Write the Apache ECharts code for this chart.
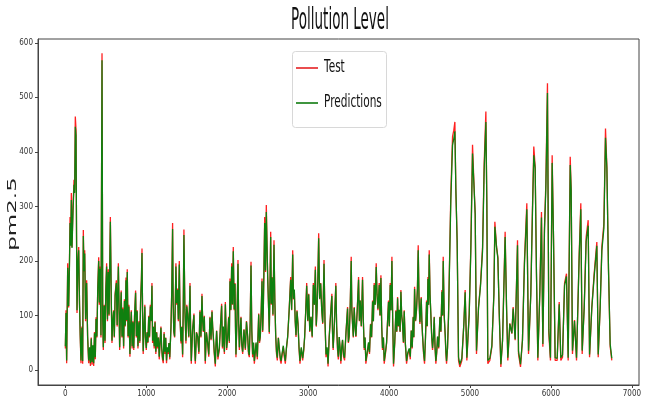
<!DOCTYPE html>
<html>
<head>
<meta charset="utf-8">
<script src="https://cdn.jsdelivr.net/npm/echarts@6/dist/echarts.min.js"></script>
<style>
  html, body { margin: 0; padding: 0; background: #fff; }
  #chart { width: 646px; height: 405px; }
</style>
</head>
<body>
<div id="chart"></div>
<script>
// sample position (row index of the test set)
const sampleIdx = [
  // 0 - 1400
  0, 8, 16, 29, 41, 50, 58, 66, 74, 82, 95, 107, 115, 123, 132, 138, 144, 155, 165, 175,
  184, 193, 205, 214, 222, 230, 239, 250, 263, 275, 288, 300, 310, 320, 330, 340, 350, 360, 370, 379,
  390, 400, 412, 420, 430, 440, 453, 462, 469, 480, 490, 500, 510, 520, 530, 540, 548, 556, 562, 568,
  576, 586, 596, 605, 615, 630, 640, 655, 663, 671, 680, 690, 700, 710, 720, 730, 740, 749, 757, 765,
  775, 785, 798, 806, 815, 825, 835, 845, 855, 868, 877, 887, 897, 910, 920, 930, 940, 947, 955, 962,
  972, 982, 990, 1000, 1010, 1020, 1030, 1040, 1050, 1060, 1070, 1078, 1088, 1098, 1108, 1118, 1128, 1138, 1150, 1160,
  1170, 1181, 1190, 1200, 1210, 1220, 1230, 1240, 1250, 1260, 1270, 1280, 1290, 1305, 1315, 1325, 1332, 1340, 1350, 1358,
  1366, 1375, 1386, 1396,
  // 1400 - 3250
  1408, 1418, 1429, 1439, 1449, 1457, 1465, 1477, 1490, 1500,
  1511, 1525, 1540, 1548, 1556, 1572, 1589, 1597, 1606, 1620,
  1635, 1650, 1663, 1675, 1688, 1697, 1705, 1717, 1729, 1743,
  1758, 1772, 1787, 1800, 1812, 1820, 1828, 1840, 1853, 1861,
  1869, 1885, 1902, 1916, 1931, 1941, 1952, 1965, 1977, 1985,
  1993, 2005, 2018, 2026, 2034, 2045, 2055, 2065, 2075, 2086,
  2096, 2102, 2108, 2120, 2133, 2141, 2150, 2160, 2170, 2180,
  2191, 2207, 2224, 2238, 2253, 2263, 2273, 2284, 2294, 2304,
  2314, 2325, 2335, 2346, 2356, 2372, 2389, 2399, 2409, 2420,
  2430, 2438, 2446, 2455, 2463, 2473, 2483, 2492, 2500, 2510,
  2520, 2528, 2537, 2545, 2553, 2565, 2578, 2588, 2599, 2609,
  2619, 2632, 2644, 2655, 2665, 2680, 2693, 2705, 2718, 2732,
  2747, 2765, 2784, 2796, 2809, 2819, 2829, 2840, 2850, 2862,
  2875, 2887, 2899, 2915, 2932, 2945, 2957, 2970, 2982, 2995,
  3007, 3020, 3035, 3050, 3064, 3077, 3089, 3100, 3110, 3120,
  3130, 3142, 3155, 3168, 3180, 3188, 3196, 3208, 3221, 3234,
  3246,
  // 3250 - 4750
  3260, 3276, 3293, 3301, 3309, 3325, 3342, 3352, 3363, 3373,
  3384, 3394, 3404, 3415, 3425, 3437, 3450, 3468, 3487, 3497,
  3507, 3520, 3532, 3540, 3548, 3558, 3569, 3580, 3590, 3606,
  3623, 3633, 3643, 3657, 3672, 3682, 3693, 3703, 3713, 3730,
  3746, 3758, 3771, 3784, 3796, 3806, 3816, 3828, 3841, 3851,
  3862, 3870, 3878, 3888, 3899, 3909, 3919, 3930, 3940, 3955,
  3969, 3981, 3993, 4003, 4014, 4024, 4035, 4045, 4055, 4070,
  4084, 4095, 4105, 4115, 4125, 4136, 4146, 4156, 4166, 4177,
  4187, 4200, 4216, 4232, 4249, 4262, 4274, 4286, 4298, 4306,
  4315, 4327, 4339, 4350, 4360, 4370, 4381, 4389, 4397, 4405,
  4414, 4426, 4438, 4450, 4463, 4471, 4480, 4488, 4496, 4506,
  4517, 4527, 4537, 4548, 4558, 4568, 4578, 4588, 4599, 4613,
  4628, 4640, 4653, 4661, 4669, 4681, 4694, 4702, 4710, 4722,
  4734,
  // 4750 - end
  4763, 4784, 4800, 4813, 4825, 4841, 4858, 4874, 4899, 4924,
  4940, 4961, 4990, 5010, 5031, 5047, 5064, 5080, 5105, 5130,
  5155, 5175, 5196, 5208, 5220, 5245, 5270, 5295, 5307, 5328,
  5344, 5361, 5381, 5402, 5434, 5451, 5467, 5492, 5517, 5533,
  5558, 5587, 5599, 5624, 5648, 5673, 5702, 5723, 5751, 5772,
  5788, 5805, 5821, 5838, 5863, 5883, 5900, 5920, 5937, 5957,
  5974, 5994, 6015, 6032, 6052, 6077, 6102, 6122, 6143, 6168,
  6192, 6213, 6238, 6250, 6266, 6291, 6316, 6349, 6369, 6386,
  6411, 6435, 6460, 6477, 6505, 6534, 6567, 6584, 6608, 6629,
  6654, 6674, 6691, 6711, 6732, 6752
];

// actual pm2.5 (Test)
const testPm25 = [
  40, 110, 13, 196, 115, 190, 281, 230, 325, 226, 300, 349, 330, 465, 440, 250, 105, 200, 226, 120,
  60, 13, 80, 12, 257, 180, 220, 90, 165, 60, 13, 40, 8, 60, 10, 45, 8, 70, 20, 97,
  60, 150, 207, 120, 190, 60, 581, 90, 37, 120, 50, 150, 196, 90, 185, 100, 190, 281, 200, 120,
  50, 90, 110, 60, 140, 165, 80, 196, 120, 37, 100, 146, 60, 115, 40, 130, 80, 170, 90, 185,
  60, 120, 25, 80, 110, 40, 90, 37, 100, 146, 60, 110, 40, 90, 50, 130, 170, 223, 90, 30,
  80, 120, 60, 37, 70, 50, 100, 60, 120, 90, 160, 50, 80, 40, 90, 30, 70, 40, 60, 20,
  50, 80, 40, 20, 13, 70, 30, 60, 13, 40, 30, 50, 20, 80, 150, 270, 120, 70, 60, 120,
  196, 120, 150, 90,
  200, 90, 49, 80, 24, 120, 258, 110, 49, 120,
  104, 60, 160, 70, 12, 75, 104, 40, 12, 70,
  61, 30, 110, 60, 140, 90, 70, 100, 12, 70,
  49, 25, 98, 55, 110, 80, 61, 30, 7, 45,
  73, 20, 37, 80, 122, 40, 79, 30, 125, 80,
  37, 60, 98, 50, 168, 110, 196, 120, 226, 110,
  160, 80, 24, 90, 202, 90, 37, 70, 98, 45,
  30, 75, 37, 90, 61, 30, 24, 90, 199, 70,
  24, 50, 12, 30, 49, 20, 104, 50, 61, 110,
  168, 70, 110, 200, 281, 180, 303, 230, 171, 120,
  67, 150, 254, 120, 171, 100, 238, 130, 61, 30,
  18, 60, 37, 20, 12, 30, 43, 25, 12, 40,
  61, 110, 171, 110, 220, 130, 147, 90, 61, 110,
  85, 40, 12, 40, 18, 35, 61, 110, 160, 90,
  140, 70, 98, 60, 160, 120, 190, 80, 110, 170,
  251, 130, 160, 110, 85, 140, 202, 90, 24, 40,
  7,
  61, 100, 140, 70, 37, 90, 160, 80, 37, 20,
  61, 40, 12, 40, 55, 25, 18, 70, 116, 50,
  61, 120, 208, 110, 85, 60, 116, 80, 61, 110,
  171, 90, 128, 80, 171, 90, 37, 60, 12, 30,
  49, 30, 85, 60, 128, 90, 160, 120, 196, 140,
  110, 130, 160, 100, 174, 80, 37, 60, 12, 30,
  49, 90, 128, 80, 160, 110, 208, 90, 7, 50,
  110, 70, 134, 80, 110, 70, 147, 100, 85, 50,
  110, 50, 12, 30, 37, 20, 73, 40, 98, 60,
  153, 90, 110, 150, 229, 130, 85, 110, 134, 90,
  61, 30, 12, 60, 128, 80, 171, 120, 220, 140,
  98, 60, 37, 60, 98, 40, 12, 30, 61, 40,
  98, 70, 147, 100, 208, 100, 61, 30, 12, 40,
  98,
  324, 428, 440, 455, 330, 238, 18, 6, 18, 86,
  147, 18, 104, 226, 413, 349, 287, 30, 116, 159,
  226, 379, 474, 300, 12, 18, 43, 141, 272, 226,
  208, 104, 6, 55, 254, 116, 18, 86, 67, 116,
  55, 238, 30, 6, 55, 202, 306, 30, 141, 300,
  410, 373, 177, 18, 147, 290, 43, 262, 342, 526,
  67, 18, 394, 238, 18, 18, 125, 18, 24, 159,
  177, 18, 391, 330, 30, 92, 18, 214, 306, 30,
  116, 244, 275, 24, 116, 177, 235, 24, 116, 226,
  269, 443, 373, 184, 43, 18
];

// model output (Predictions)
const predPm25 = [
  44, 105, 18, 188, 118, 184, 270, 228, 312, 224, 292, 340, 325, 446, 430, 252, 110, 196, 220, 122,
  64, 18, 78, 17, 246, 182, 214, 94, 160, 63, 18, 42, 13, 58, 15, 46, 13, 68, 24, 94,
  62, 146, 200, 124, 186, 64, 568, 96, 42, 118, 54, 147, 190, 93, 180, 102, 186, 272, 202, 124,
  54, 90, 108, 62, 137, 160, 83, 190, 122, 42, 98, 143, 62, 112, 44, 127, 82, 165, 92, 180,
  63, 117, 30, 79, 107, 44, 88, 41, 98, 142, 63, 108, 44, 88, 53, 127, 166, 215, 94, 35,
  79, 117, 62, 41, 69, 52, 98, 62, 117, 91, 155, 54, 79, 44, 88, 34, 69, 43, 60, 25,
  51, 78, 43, 24, 18, 67, 34, 59, 18, 42, 33, 50, 24, 78, 146, 259, 126, 72, 62, 118,
  190, 123, 147, 93,
  194, 92, 53, 79, 29, 118, 248, 112, 54, 117,
  102, 62, 155, 72, 17, 74, 101, 43, 17, 69,
  62, 34, 107, 62, 136, 90, 72, 98, 17, 69,
  51, 29, 96, 57, 107, 80, 63, 34, 12, 47,
  72, 25, 40, 79, 118, 43, 80, 34, 121, 80,
  41, 60, 96, 53, 163, 111, 190, 121, 218, 112,
  158, 81, 29, 89, 195, 91, 42, 70, 96, 48,
  34, 74, 40, 89, 62, 34, 28, 89, 192, 72,
  29, 51, 17, 33, 51, 25, 102, 53, 63, 109,
  163, 73, 113, 196, 270, 183, 290, 228, 172, 121,
  70, 148, 244, 122, 170, 102, 230, 130, 65, 34,
  23, 59, 40, 24, 17, 33, 45, 29, 17, 42,
  62, 108, 166, 111, 212, 131, 148, 91, 64, 108,
  84, 43, 17, 42, 22, 38, 62, 108, 155, 91,
  139, 72, 98, 62, 156, 120, 184, 82, 112, 167,
  242, 131, 159, 110, 87, 139, 195, 91, 29, 42,
  12,
  60, 99, 136, 72, 41, 89, 155, 81, 41, 25,
  61, 42, 17, 42, 56, 29, 23, 70, 113, 52,
  63, 118, 200, 111, 88, 62, 114, 80, 63, 108,
  166, 91, 128, 81, 166, 91, 41, 60, 17, 33,
  51, 33, 84, 61, 126, 90, 156, 120, 189, 139,
  113, 130, 156, 101, 169, 81, 41, 60, 17, 33,
  51, 89, 125, 81, 156, 110, 200, 90, 12, 52,
  108, 71, 132, 81, 111, 71, 144, 100, 87, 52,
  108, 52, 17, 33, 40, 25, 73, 42, 97, 61,
  149, 91, 112, 148, 220, 131, 88, 110, 132, 91,
  63, 34, 17, 61, 125, 81, 167, 120, 212, 139,
  100, 61, 41, 61, 97, 43, 17, 33, 62, 42,
  97, 71, 144, 101, 200, 101, 64, 34, 17, 42,
  96,
  312, 412, 425, 438, 332, 236, 24, 11, 22, 85,
  143, 23, 102, 219, 397, 345, 285, 36, 114, 155,
  219, 368, 455, 305, 18, 22, 45, 138, 263, 225,
  205, 106, 11, 55, 244, 120, 23, 85, 68, 113,
  57, 229, 35, 11, 55, 196, 295, 36, 138, 292,
  394, 370, 180, 23, 143, 280, 48, 255, 332, 508,
  74, 23, 380, 240, 23, 22, 121, 23, 28, 155,
  172, 23, 376, 330, 36, 90, 23, 207, 295, 36,
  114, 236, 265, 29, 114, 172, 228, 29, 114, 219,
  260, 426, 370, 186, 48, 22
];

const xTicks = [0, 1000, 2000, 3000, 4000, 5000, 6000, 7000];
const yTicks = [0, 100, 200, 300, 400, 500, 600];

const narrowFont = '"Liberation Sans Narrow", "DejaVu Sans Condensed", "DejaVu Sans", sans-serif';

const chart = echarts.init(document.getElementById('chart'), null, { renderer: 'canvas' });

chart.setOption({
  animation: false,
  backgroundColor: '#fff',
  grid: {
    left: 38,
    right: 7,
    top: 39,
    bottom: 20,
    show: true,
    borderColor: '#444',
    borderWidth: 1,
    containLabel: false
  },
  xAxis: {
    type: 'value',
    min: -338,
    max: 7088,
    splitLine: { show: false },
    axisLine: { onZero: false, lineStyle: { color: '#444', width: 1 } },
    axisTick: { show: true, length: 3, customValues: xTicks, lineStyle: { color: '#444' } },
    axisLabel: {
      customValues: xTicks,
      formatter: v => String(v),
      fontSize: 8,
      color: '#333',
      margin: 5,
      fontFamily: narrowFont
    }
  },
  yAxis: {
    type: 'value',
    min: -27,
    max: 607,
    splitLine: { show: false },
    axisLine: { show: true, onZero: false, lineStyle: { color: '#444', width: 1 } },
    axisTick: { show: true, length: 3, customValues: yTicks, lineStyle: { color: '#444' } },
    axisLabel: {
      customValues: yTicks,
      formatter: v => String(v),
      fontSize: 8,
      color: '#333',
      margin: 5,
      fontFamily: narrowFont
    }
  },
  series: [
    {
      name: 'Test',
      type: 'line',
      showSymbol: false,
      data: sampleIdx.map((x, i) => [x, testPm25[i]]),
      lineStyle: { color: '#ff2020', width: 1.3 },
      itemStyle: { color: '#ff2020' },
      z: 2
    },
    {
      name: 'Predictions',
      type: 'line',
      showSymbol: false,
      data: sampleIdx.map((x, i) => [x, predPm25[i]]),
      lineStyle: { color: '#0f800f', width: 1.3 },
      itemStyle: { color: '#0f800f' },
      z: 3
    }
  ],
  graphic: [
    {
      type: 'text',
      x: 340,
      y: 21,
      scaleX: 0.45,
      style: {
        text: 'Pollution Level',
        x: 0,
        y: 0,
        align: 'center',
        verticalAlign: 'middle',
        fontSize: 30,
        fontFamily: 'DejaVu Sans',
        fill: '#111'
      }
    },
    {
      type: 'text',
      x: 13,
      y: 214,
      rotation: Math.PI / 2,
      scaleY: 0.5,
      style: {
        text: 'pm2.5',
        x: 0,
        y: 0,
        align: 'center',
        verticalAlign: 'middle',
        fontSize: 23,
        fontFamily: 'DejaVu Sans',
        fill: '#222'
      }
    },
    {
      type: 'group',
      z: 100,
      children: [
        {
          type: 'rect',
          shape: { x: 292.5, y: 51.5, width: 94, height: 76, r: 3 },
          style: { fill: 'rgba(255,255,255,0.85)', stroke: '#d8d8d8', lineWidth: 1 }
        },
        {
          type: 'line',
          shape: { x1: 296, y1: 68, x2: 318, y2: 68 },
          style: { stroke: '#e8393c', lineWidth: 1.8 }
        },
        {
          type: 'text',
          x: 324,
          y: 68,
          scaleX: 0.62,
          style: { text: 'Test', x: 0, y: 0, verticalAlign: 'middle', fontSize: 17, fontFamily: 'DejaVu Sans', fill: '#111' }
        },
        {
          type: 'line',
          shape: { x1: 296, y1: 103, x2: 318, y2: 103 },
          style: { stroke: '#2a8a2a', lineWidth: 1.8 }
        },
        {
          type: 'text',
          x: 324,
          y: 103,
          scaleX: 0.62,
          style: { text: 'Predictions', x: 0, y: 0, verticalAlign: 'middle', fontSize: 17, fontFamily: 'DejaVu Sans', fill: '#111' }
        }
      ]
    }
  ]
});
</script>
</body>
</html>
